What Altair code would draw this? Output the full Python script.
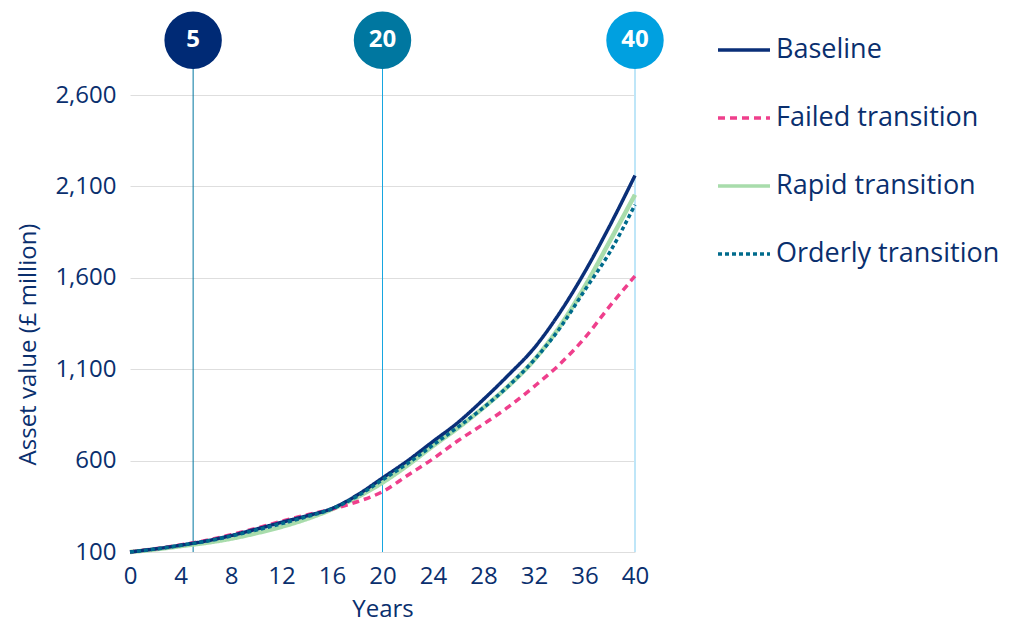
import altair as alt
import pandas as pd

years = list(range(0, 41, 2))
baseline = [100, 117, 137, 160, 190, 225, 262, 298, 338, 412, 505, 600, 705, 810, 935, 1070, 1215, 1405, 1630, 1885, 2160]
failed = [100, 118, 139, 163, 195, 230, 268, 303, 335, 375, 430, 520, 610, 710, 800, 895, 1005, 1125, 1270, 1445, 1610]
rapid = [100, 114, 132, 150, 173, 203, 238, 281, 334, 400, 480, 575, 680, 780, 890, 1010, 1150, 1330, 1550, 1800, 2055]
orderly = [100, 116, 136, 158, 187, 220, 255, 293, 336, 405, 495, 585, 685, 785, 890, 1010, 1150, 1320, 1530, 1740, 2000]

series_names = ["Baseline", "Failed transition", "Rapid transition", "Orderly transition"]
series_colors = ["#0a2f78", "#ef3f8c", "#a8dcab", "#006b8c"]
series_dashes = [[1, 0], [7, 5], [1, 0], [4, 3]]
series_widths = [3.5, 3.5, 4.5, 3.5]

marker_years = [5, 20, 40]
marker_labels = ["5", "20", "40"]
marker_fills = ["#002a75", "#0077a0", "#00a0e0"]
marker_rules = ["#0077a0", "#16a6e0", "#bfe6f8"]
marker_rule_widths = [1, 1, 2]

navy = "#0a2f6e"
font = "Open Sans"

rows = []
for name, vals in zip(series_names, [baseline, failed, rapid, orderly]):
    for yr, v in zip(years, vals):
        rows.append({"year": yr, "value": v, "series": name})
df = pd.DataFrame(rows)

markers = pd.DataFrame({
    "year": marker_years,
    "label": marker_labels,
    "fill": marker_fills,
    "rule": marker_rules,
    "rw": marker_rule_widths,
})

x_scale = alt.Scale(domain=[0, 40], nice=False)
y_scale = alt.Scale(domain=[100, 3000], nice=False, zero=False)

x_enc = alt.X("year:Q", scale=x_scale,
              axis=alt.Axis(values=list(range(0, 41, 4)), title="Years", grid=False,
                            labelFontSize=24, titleFontSize=24, labelPadding=12,
                            titlePadding=9, labelColor=navy, titleColor=navy,
                            titleFont=font, labelFont=font, titleFontWeight="normal",
                            ticks=False, tickSize=0, domain=False, labelFlush=False))
y_enc = alt.Y("value:Q", scale=y_scale,
              axis=alt.Axis(values=[100, 600, 1100, 1600, 2100, 2600], format=",.0f",
                            title="Asset value (£ million)", grid=True, gridColor="#dedede",
                            labelFontSize=24, titleFontSize=24, labelPadding=14,
                            titlePadding=14, titleY=322, labelColor=navy, titleColor=navy,
                            titleFont=font, labelFont=font, titleFontWeight="normal",
                            ticks=False, tickSize=0, domain=False))

legend = alt.Legend(title=None, orient="none", legendX=586, legendY=0,
                    symbolType="stroke", symbolSize=2704,
                    symbolStrokeWidth=3.5, labelFontSize=27, labelFontWeight="normal",
                    labelColor=navy, labelFont=font, labelOffset=4,
                    rowPadding=27, labelLimit=400)
color_enc = alt.Color("series:N", scale=alt.Scale(domain=series_names, range=series_colors),
                      legend=legend)
dash_enc = alt.StrokeDash("series:N", scale=alt.Scale(domain=series_names, range=series_dashes),
                          legend=legend)

rules = alt.Chart(markers).mark_rule().encode(
    x=alt.X("year:Q", scale=x_scale),
    y=alt.datum(100, scale=y_scale),
    y2=alt.datum(2900),
    stroke=alt.Stroke("rule:N", scale=None),
    strokeWidth=alt.StrokeWidth("rw:Q", scale=None),
)

base = alt.Chart(df).encode(x=x_enc, y=y_enc, color=color_enc, strokeDash=dash_enc)
draw_order = ["Rapid transition", "Failed transition", "Baseline", "Orderly transition"]
line_layers = [
    base.transform_filter(alt.datum.series == s).mark_line(
        strokeCap="butt", interpolate="monotone",
        strokeWidth=series_widths[series_names.index(s)])
    for s in draw_order
]

circles = alt.Chart(markers).mark_circle(size=3300, opacity=1).encode(
    x=alt.X("year:Q", scale=x_scale),
    y=alt.datum(2900, scale=y_scale),
    fill=alt.Fill("fill:N", scale=None),
)
texts = alt.Chart(markers).mark_text(color="white", fontSize=24, fontWeight="bold",
                                     font=font, baseline="middle", align="center").encode(
    x=alt.X("year:Q", scale=x_scale),
    y=alt.datum(2900, scale=y_scale),
    text="label:N",
)

chart = alt.layer(rules, *line_layers, circles, texts).properties(
    width=505, height=530,
    padding={"top": 11, "left": 16, "right": 5, "bottom": 5},
).configure_view(stroke=None)

chart.save("out.html", embed_options={"renderer": "svg", "actions": False})
